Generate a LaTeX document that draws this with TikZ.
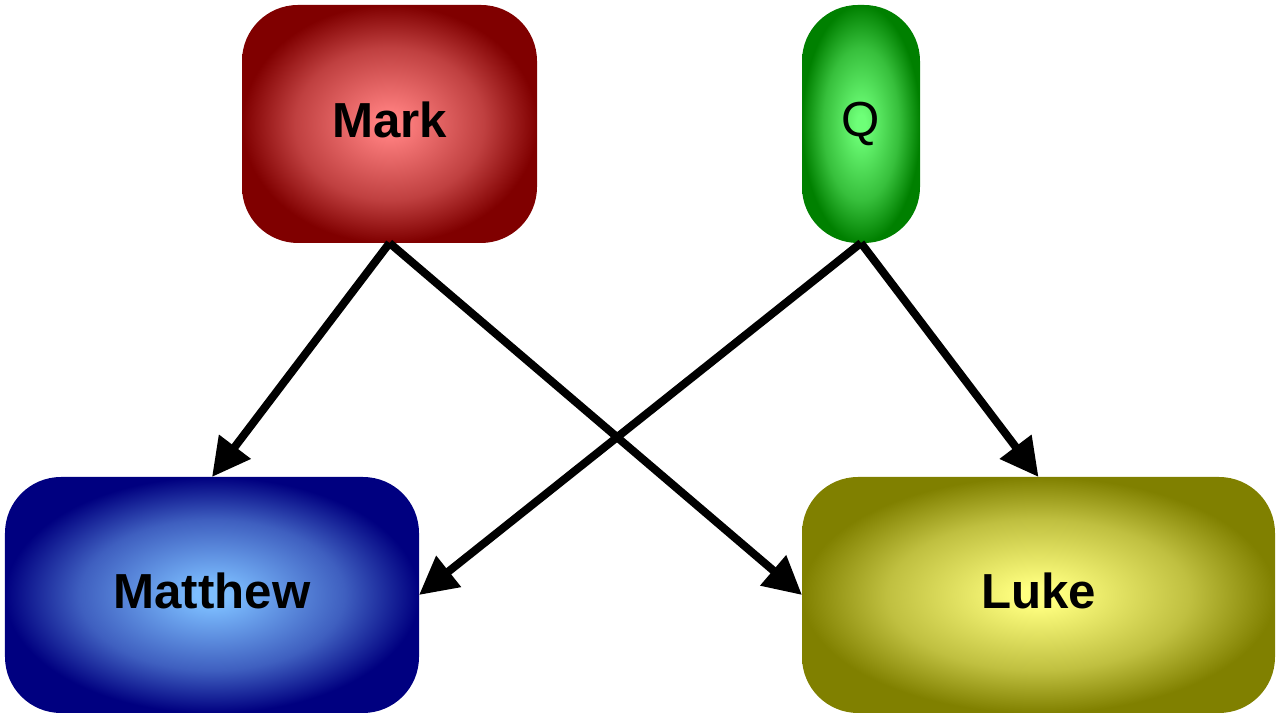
\documentclass[tikz,border=0pt]{standalone}
\usepackage{fontspec}
\setmainfont{Liberation Sans}
\usepackage{xcolor}
\usepackage{tikz}
\usetikzlibrary{arrows.meta, positioning}
\definecolor{markout}{RGB}{128,0,0}
\definecolor{markin}{RGB}{255,128,128}
\definecolor{qout}{RGB}{0,128,0}
\definecolor{qin}{RGB}{110,255,120}
\definecolor{mattout}{RGB}{0,0,128}
\definecolor{mattin}{RGB}{125,190,255}
\definecolor{lukeout}{RGB}{128,128,0}
\definecolor{lukein}{RGB}{255,255,128}
\pgfdeclareradialshading{markshade}{\pgfpoint{0bp}{0bp}}{color(0bp)=(markin); color(2bp)=(markin); color(16bp)=(markin!50!markout); color(25bp)=(markout); color(50bp)=(markout)}
\pgfdeclareradialshading{qshade}{\pgfpoint{0bp}{0bp}}{color(0bp)=(qin); color(2bp)=(qin); color(16bp)=(qin!50!qout); color(25bp)=(qout); color(50bp)=(qout)}
\pgfdeclareradialshading{mattshade}{\pgfpoint{0bp}{0bp}}{color(0bp)=(mattin); color(2bp)=(mattin); color(16bp)=(mattin!50!mattout); color(25bp)=(mattout); color(50bp)=(mattout)}
\pgfdeclareradialshading{lukeshade}{\pgfpoint{0bp}{0bp}}{color(0bp)=(lukein); color(2bp)=(lukein); color(16bp)=(lukein!50!lukeout); color(25bp)=(lukeout); color(50bp)=(lukeout)}
\tikzset{
    gospel/.style={rectangle, rounded corners=1.4cm, inner sep=0pt, outer sep=0pt, text depth=0.22cm, text centered, shade, shading=#1, font=\fontsize{35}{40}\selectfont\bfseries},
    source/.style={gospel=#1, font=\fontsize{35}{40}\selectfont},
    arrow/.style={line width=0.2cm, -{Triangle[length=0.95cm, width=0.95cm]}, color=black}
}
\begin{document}
\begin{tikzpicture}
    \useasboundingbox (0,0) rectangle (32,18.025);
    % Nodes
    \node (mark) [gospel=markshade, minimum width=7.375cm, minimum height=5.95cm] at (9.7375,14.925) {Mark};
    \node (q) [source=qshade, minimum width=2.95cm, minimum height=5.95cm] at (21.525,14.925) {Q};
    \node (matthew) [gospel=mattshade, minimum width=10.35cm, minimum height=5.9cm] at (5.3,3.15) {Matthew};
    \node (luke) [gospel=lukeshade, minimum width=11.825cm, minimum height=5.9cm] at (25.9625,3.15) {Luke};

    % Arrows
    \draw [arrow] (mark.south) -- (matthew.north);
    \draw [arrow] (mark.south) -- (luke.west);
    \draw [arrow] (q.south) -- (matthew.east);
    \draw [arrow] (q.south) -- (luke.north);
\end{tikzpicture}
\end{document}
